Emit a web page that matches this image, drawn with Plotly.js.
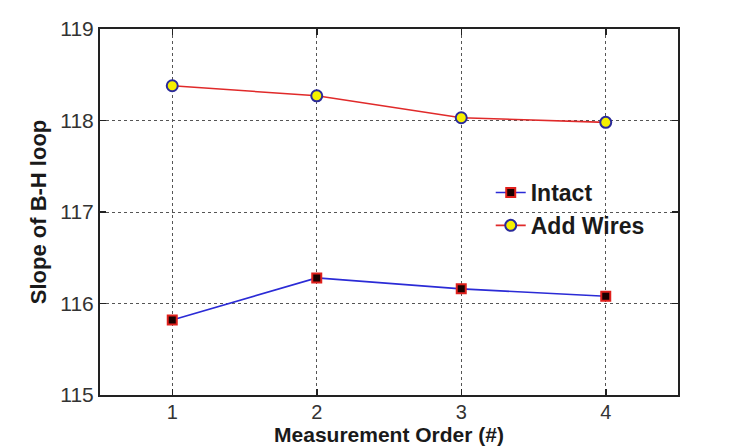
<!DOCTYPE html>
<html>
<head>
<meta charset="utf-8">
<script src="https://cdn.plot.ly/plotly-3.0.1.min.js"></script>
<style>html,body{margin:0;padding:0;background:#fff;}#chart{width:750px;height:447px;}</style>
</head>
<body>
<div id="chart"></div>
<script>
const order = [1, 2, 3, 4];
const intact = [115.82, 116.28, 116.16, 116.08];
const addWires = [118.38, 118.27, 118.03, 117.98];
const xTicks = [1, 2, 3, 4];
const yTicks = [115, 116, 117, 118, 119];

const data = [
  {
    x: order, y: intact, name: 'Intact', type: 'scatter', mode: 'lines+markers',
    line: {color: '#2b2bd6', width: 1.6},
    marker: {symbol: 'square', size: 9, color: '#1a0000', line: {color: '#e0201c', width: 2}}
  },
  {
    x: order, y: addWires, name: 'Add Wires', type: 'scatter', mode: 'lines+markers',
    line: {color: '#e02a2a', width: 1.6},
    marker: {symbol: 'circle', size: 11, color: '#f5f000', line: {color: '#2a2a9a', width: 2}}
  }
];

const layout = {
  width: 750, height: 447,
  margin: {l: 100, r: 72, t: 29, b: 52},
  paper_bgcolor: '#ffffff', plot_bgcolor: '#ffffff',
  font: {family: 'Liberation Sans, Arial, sans-serif', color: '#333'},
  showlegend: true,
  legend: {
    x: 0.676, y: 0.612, xanchor: 'left', yanchor: 'top',
    bgcolor: 'rgba(255,255,255,0)', borderwidth: 0,
    font: {size: 23, color: '#1a1a1a', family: 'Liberation Sans, Arial, sans-serif', weight: 'bold'},
    tracegroupgap: 0, itemwidth: 30
  },
  xaxis: {
    range: [0.5, 4.5], tickvals: xTicks, ticktext: xTicks.map(String),
    showgrid: true, gridcolor: '#555', griddash: 'dot', gridwidth: 1,
    zeroline: false, showline: true, linecolor: '#222', linewidth: 2, mirror: 'ticks',
    ticks: 'inside', ticklen: 6, tickcolor: '#222', tickwidth: 1.5,
    tickfont: {size: 20, color: '#333'}, ticklabelstandoff: -2,
    title: {text: 'Measurement Order (#)', font: {size: 21, color: '#1a1a1a', weight: 'bold'}, standoff: 1}
  },
  yaxis: {
    range: [115, 119], tickvals: yTicks, ticktext: yTicks.map(String),
    showgrid: true, gridcolor: '#555', griddash: 'dot', gridwidth: 1,
    zeroline: false, showline: true, linecolor: '#222', linewidth: 2, mirror: 'ticks',
    ticks: 'inside', ticklen: 6, tickcolor: '#222', tickwidth: 1.5,
    tickfont: {size: 21, color: '#333'},
    title: {text: 'Slope of B-H loop', font: {size: 22, color: '#1a1a1a', weight: 'bold'}, standoff: 8}
  }
};

Plotly.newPlot('chart', data, layout, {displayModeBar: false, staticPlot: true});
</script>
</body>
</html>
